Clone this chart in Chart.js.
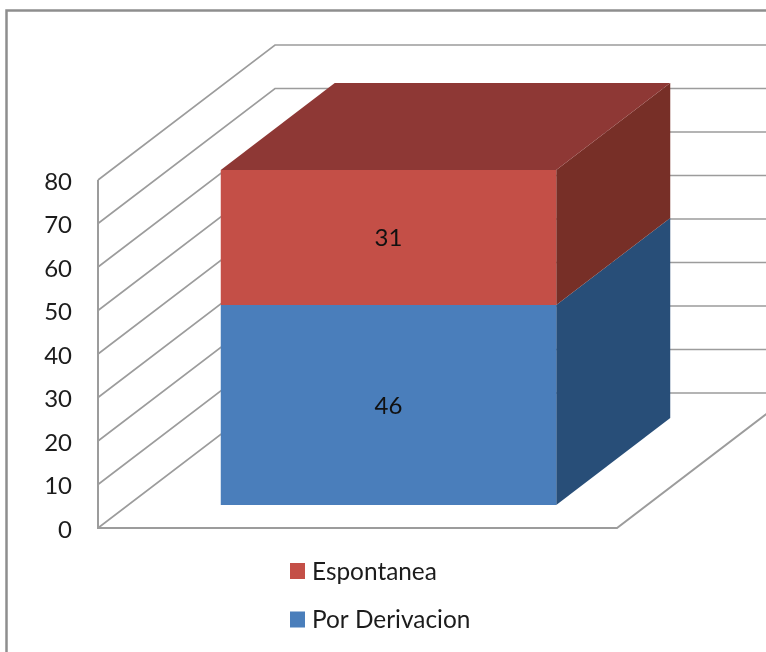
<!DOCTYPE html>
<html>
<head>
<meta charset="utf-8">
<title>Espontanea / Por Derivacion</title>
<script src="https://cdn.jsdelivr.net/npm/chart.js@4/dist/chart.umd.min.js"></script>
<style>
  html, body { margin: 0; padding: 0; background: #fff; overflow: hidden; }
  canvas { display: block; }
</style>
</head>
<body>
<canvas id="chart3d" width="766" height="652"></canvas>
<script>
const categories = ["Total"];
const porDerivacion = [46];
const espontanea = [31];
const yMax = 80;
const yStep = 10;

// depth of the floor, and where the box sits inside that depth
const wallDx = 177, wallDy = -135;
const barShiftX = 31, barShiftY = -23;
const barDx = 114, barDy = -87;

const lineColor = "#9c9c9c";
const textColor = "#1c1c1c";
const fontName = "Lato, 'Open Sans', sans-serif";

function poly(ctx, pts, fill) {
    ctx.beginPath();
    pts.forEach((p, i) => i ? ctx.lineTo(p[0], p[1]) : ctx.moveTo(p[0], p[1]));
    ctx.closePath();
    ctx.fillStyle = fill;
    ctx.fill();
}

const frame3d = {
    id: "frame3d",
    beforeDraw(chart) {
        const ctx = chart.ctx;
        ctx.save();
        ctx.strokeStyle = "#8e8e8e";
        ctx.lineWidth = 2.5;
        ctx.strokeRect(6.5, 10.5, 900, 900);

        // side wall and back wall lines, one per tick
        const y = chart.scales.y, a = chart.chartArea;
        ctx.strokeStyle = lineColor;
        ctx.lineWidth = 1.6;
        y.ticks.forEach(t => {
            const py = y.getPixelForValue(t.value);
            ctx.beginPath();
            ctx.moveTo(a.left, py);
            ctx.lineTo(a.left + wallDx, py + wallDy);
            ctx.lineTo(chart.width, py + wallDy);
            ctx.stroke();
        });
        // axis and floor
        ctx.lineWidth = 2;
        ctx.beginPath();
        ctx.moveTo(a.left, y.getPixelForValue(yMax));
        ctx.lineTo(a.left, a.bottom);
        ctx.lineTo(a.right, a.bottom);
        ctx.lineTo(a.right + wallDx, a.bottom + wallDy);
        ctx.stroke();
        ctx.restore();
    },
    beforeDatasetsDraw(chart) {
        const ctx = chart.ctx;
        ctx.save();
        ctx.translate(barShiftX, barShiftY);
        // side faces go behind the fronts
        chart.data.datasets.forEach((ds, i) => {
            const b = chart.getDatasetMeta(i).data[0];
            const r = b.x + b.width / 2, l = b.x - b.width / 2;
            poly(ctx, [[r, b.y], [r + barDx, b.y + barDy], [r + barDx, b.base + barDy], [r, b.base]], ds.sideColor);
            if (i === chart.data.datasets.length - 1) {
                poly(ctx, [[l, b.y], [l + barDx, b.y + barDy], [r + barDx, b.y + barDy], [r, b.y]], ds.topColor);
            }
        });
    },
    afterDatasetsDraw(chart) {
        const ctx = chart.ctx;
        ctx.textAlign = "center";
        ctx.textBaseline = "middle";
        ctx.font = "24px " + fontName;
        ctx.fillStyle = "#111";
        chart.data.datasets.forEach((ds, i) => {
            const b = chart.getDatasetMeta(i).data[0];
            ctx.fillText(ds.data[0], b.x, (b.y + b.base) / 2 + 1);
        });
        ctx.restore();

        // legend, top row is the last series
        ctx.save();
        ctx.font = "24.4px " + fontName;
        ctx.textAlign = "left";
        ctx.textBaseline = "middle";
        chart.data.datasets.slice().reverse().forEach((ds, i) => {
            const rowY = 571 + i * 48.5;
            ctx.fillStyle = ds.backgroundColor;
            ctx.fillRect(290, rowY - 8, 15, 16);
            ctx.fillStyle = textColor;
            ctx.fillText(ds.label, 312, rowY + 1);
        });
        ctx.restore();
    }
};

new Chart(document.getElementById("chart3d"), {
    type: "bar",
    data: {
        labels: categories,
        datasets: [
            { label: "Por Derivacion", data: porDerivacion, backgroundColor: "#4a7ebb", sideColor: "#284e78", topColor: "#35608f" },
            { label: "Espontanea", data: espontanea, backgroundColor: "#c44f47", sideColor: "#772f27", topColor: "#8e3835" }
        ]
    },
    options: {
        responsive: false,
        animation: false,
        devicePixelRatio: 1,
        layout: { padding: { left: 0, top: 180, right: 149, bottom: 124 } },
        datasets: { bar: { barPercentage: 0.6464, categoryPercentage: 1 } },
        plugins: { legend: { display: false }, tooltip: { enabled: false } },
        scales: {
            x: { stacked: true, display: false },
            y: {
                stacked: true,
                min: 0,
                max: yMax,
                afterFit(s) { s.width = 98; },
                border: { display: false },
                grid: { display: false },
                ticks: {
                    stepSize: yStep,
                    padding: 18,
                    labelOffset: 2,
                    color: textColor,
                    font: { family: fontName, size: 24 }
                }
            }
        }
    },
    plugins: [frame3d]
});
</script>
</body>
</html>
